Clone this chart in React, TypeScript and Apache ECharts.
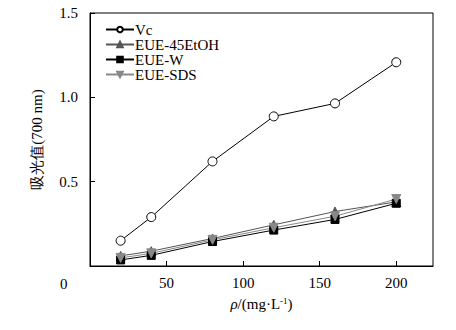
import React, { useEffect, useRef } from "react";
import * as echarts from "echarts";

const xValues = [20, 40, 80, 120, 160, 200];
const vc = [0.15, 0.29, 0.62, 0.887, 0.964, 1.208];
const eue45EtOH = [0.06, 0.088, 0.163, 0.244, 0.323, 0.38];
const eueW = [0.036, 0.063, 0.145, 0.213, 0.276, 0.372];
const eueSDS = [0.048, 0.075, 0.155, 0.227, 0.295, 0.397];
const seriesNames = ["Vc", "EUE-45EtOH", "EUE-W", "EUE-SDS"];

const FONT = "Times New Roman, Liberation Serif, DejaVu Serif, serif";

export default function App() {
  const ref = useRef<HTMLDivElement>(null);
  useEffect(() => {
    if (!ref.current) return;
    const chart = echarts.init(ref.current, null, { renderer: "svg" });
    const pair = (ys: number[]) => xValues.map((x, i) => [x, ys[i]]);
    const mk = (
      name: string,
      ys: number[],
      symbol: string,
      size: number,
      lineColor: string,
      fill: string,
      border: string
    ) => ({
      name,
      type: "line",
      data: pair(ys),
      symbol,
      symbolSize: size,
      showAllSymbol: true,
      lineStyle: { color: lineColor, width: 1 },
      itemStyle: { color: fill, borderColor: border, borderWidth: 1, opacity: 1 },
    });
    chart.setOption({
      animation: false,
      textStyle: { fontFamily: FONT },
      grid: {
        left: 90,
        right: 23,
        top: 13,
        bottom: 64,
        show: true,
        borderColor: "#000",
        borderWidth: 1,
      },
      legend: {
        orient: "vertical",
        left: 105,
        top: 22,
        padding: 0,
        itemWidth: 28,
        itemHeight: 7,
        itemGap: 0,
        data: seriesNames,
        textStyle: {
          fontFamily: FONT,
          fontSize: 15,
          color: "#000",
          lineHeight: 14.5,
          padding: [0, 0, 0, -4],
        },
      },
      xAxis: {
        type: "value",
        min: 0,
        max: 224,
        interval: 50,
        axisLine: { lineStyle: { color: "#000", width: 1 } },
        axisTick: { inside: true, length: 5, lineStyle: { color: "#000" } },
        splitLine: { show: false },
        axisLabel: {
          fontFamily: FONT,
          fontSize: 15,
          color: "#000",
          margin: 9,
          showMaxLabel: false,
          formatter: (v: number) => (v === 0 || v % 50 !== 0 ? "" : String(v)),
        },
        name: "{i|ρ}/(mg·L{s|-1})",
        nameLocation: "middle",
        nameGap: 30,
        nameTextStyle: {
          fontFamily: FONT,
          fontSize: 15,
          color: "#000",
          rich: {
            i: { fontFamily: FONT, fontSize: 15, fontStyle: "italic", color: "#000" },
            s: { fontFamily: FONT, fontSize: 9, color: "#000", verticalAlign: "top", padding: [0, 0, 6, 0] },
          },
        },
      },
      yAxis: {
        type: "value",
        min: 0,
        max: 1.5,
        interval: 0.5,
        axisLine: { lineStyle: { color: "#000", width: 1 } },
        axisTick: { inside: true, length: 5, lineStyle: { color: "#000" } },
        splitLine: { show: false },
        axisLabel: {
          fontFamily: FONT,
          fontSize: 15,
          color: "#000",
          margin: 12,
          formatter: (v: number) => (v === 0 ? "" : v.toFixed(1)),
        },
        name: "吸光值(700 nm)",
        nameLocation: "middle",
        nameGap: 46,
        nameTextStyle: { fontFamily: FONT, fontSize: 15, color: "#000" },
      },
      graphic: [
        {
          type: "text",
          left: 60,
          top: 276,
          style: { text: "0", fontFamily: FONT, fontSize: 15, fill: "#000" },
        },
      ],
      series: [
        mk("Vc", vc, "circle", 9, "#000", "#fff", "#000"),
        mk("EUE-45EtOH", eue45EtOH, "triangle", 9, "#555", "#555", "#555"),
        mk("EUE-W", eueW, "rect", 8, "#000", "#000", "#000"),
        {
          ...mk("EUE-SDS", eueSDS, "triangle", 9, "#888", "#888", "#888"),
          symbolRotate: 180,
        },
      ],
    });
    return () => chart.dispose();
  }, []);
  return (
    <div
      ref={ref}
      style={{ position: "absolute", left: 0, top: 0, width: 456, height: 330 }}
    />
  );
}
